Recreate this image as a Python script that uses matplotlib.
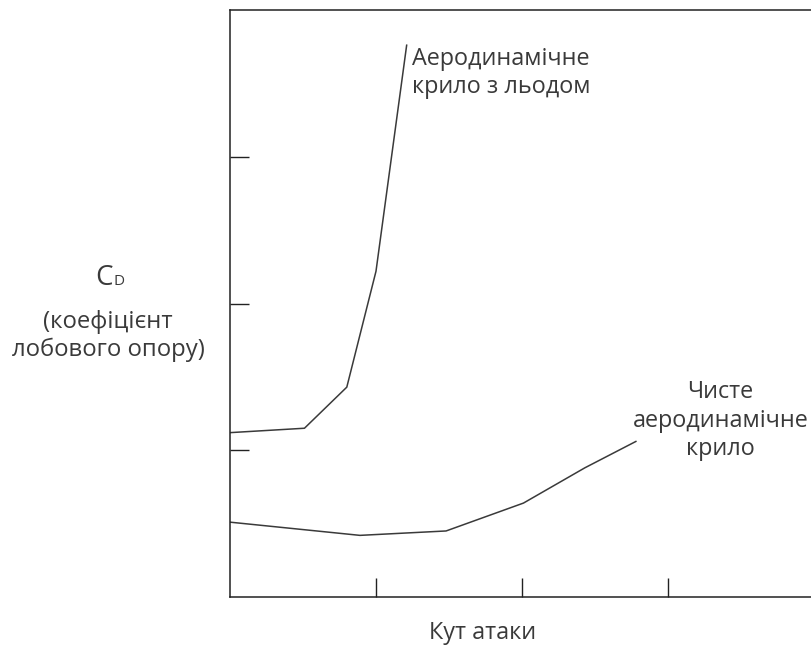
import matplotlib
matplotlib.use("Agg")
import matplotlib.pyplot as plt

# iced airfoil drag curve
iced_x = [0.0, 0.51, 0.80, 1.0, 1.21]
iced_y = [1.12, 1.15, 1.43, 2.22, 3.76]

# clean airfoil drag curve
clean_x = [0.0, 0.89, 1.48, 2.01, 2.43, 2.78]
clean_y = [0.51, 0.42, 0.45, 0.64, 0.88, 1.06]

x_ticks = [1, 2, 3]
y_ticks = [1, 2, 3]

plt.rcParams['font.family'] = ['Open Sans', 'DejaVu Sans']
line_color = '#3a3a3a'
text_color = '#3a3a3a'

fig = plt.figure(figsize=(8.12, 6.46), dpi=100)
ax = fig.add_axes([230 / 812, 49 / 646, 584 / 812, 587 / 646])

ax.plot(iced_x, iced_y, color=line_color, lw=1.1)
ax.plot(clean_x, clean_y, color=line_color, lw=1.1)

ax.set_xlim(0, 4)
ax.set_ylim(0, 4)
ax.set_xticks(x_ticks)
ax.set_yticks(y_ticks)
ax.tick_params(direction='in', length=14, width=1.0, color='#222222',
               labelbottom=False, labelleft=False)
for s in ax.spines.values():
    s.set_linewidth(1.1)
    s.set_color('#222222')

ax.text(1.25, 3.75, 'Аеродинамічне\nкрило з льодом', ha='left', va='top',
        fontsize=16.8, color=text_color, linespacing=1.25)
ax.text(3.36, 1.20, 'Чисте\nаеродинамічне\nкрило', ha='center', va='center',
        fontsize=16.8, color=text_color, linespacing=1.25)

# C with a small D, sitting on the same baseline
fig.text(113 / 812, 1 - 285 / 646, 'C', ha='right', va='baseline',
         fontsize=20, color=text_color)
fig.text(114 / 812, 1 - 285 / 646, 'D', ha='left', va='baseline',
         fontsize=11, color=text_color)
fig.text(108 / 812, 1 - 336 / 646, '(коефіцієнт\nлобового опору)', ha='center',
         va='center', fontsize=17.2, color=text_color, linespacing=1.25)
fig.text(483 / 812, 1 - 633 / 646, 'Кут атаки', ha='center', va='center',
         fontsize=16.8, color=text_color)

fig.savefig('out.png', dpi=100)
